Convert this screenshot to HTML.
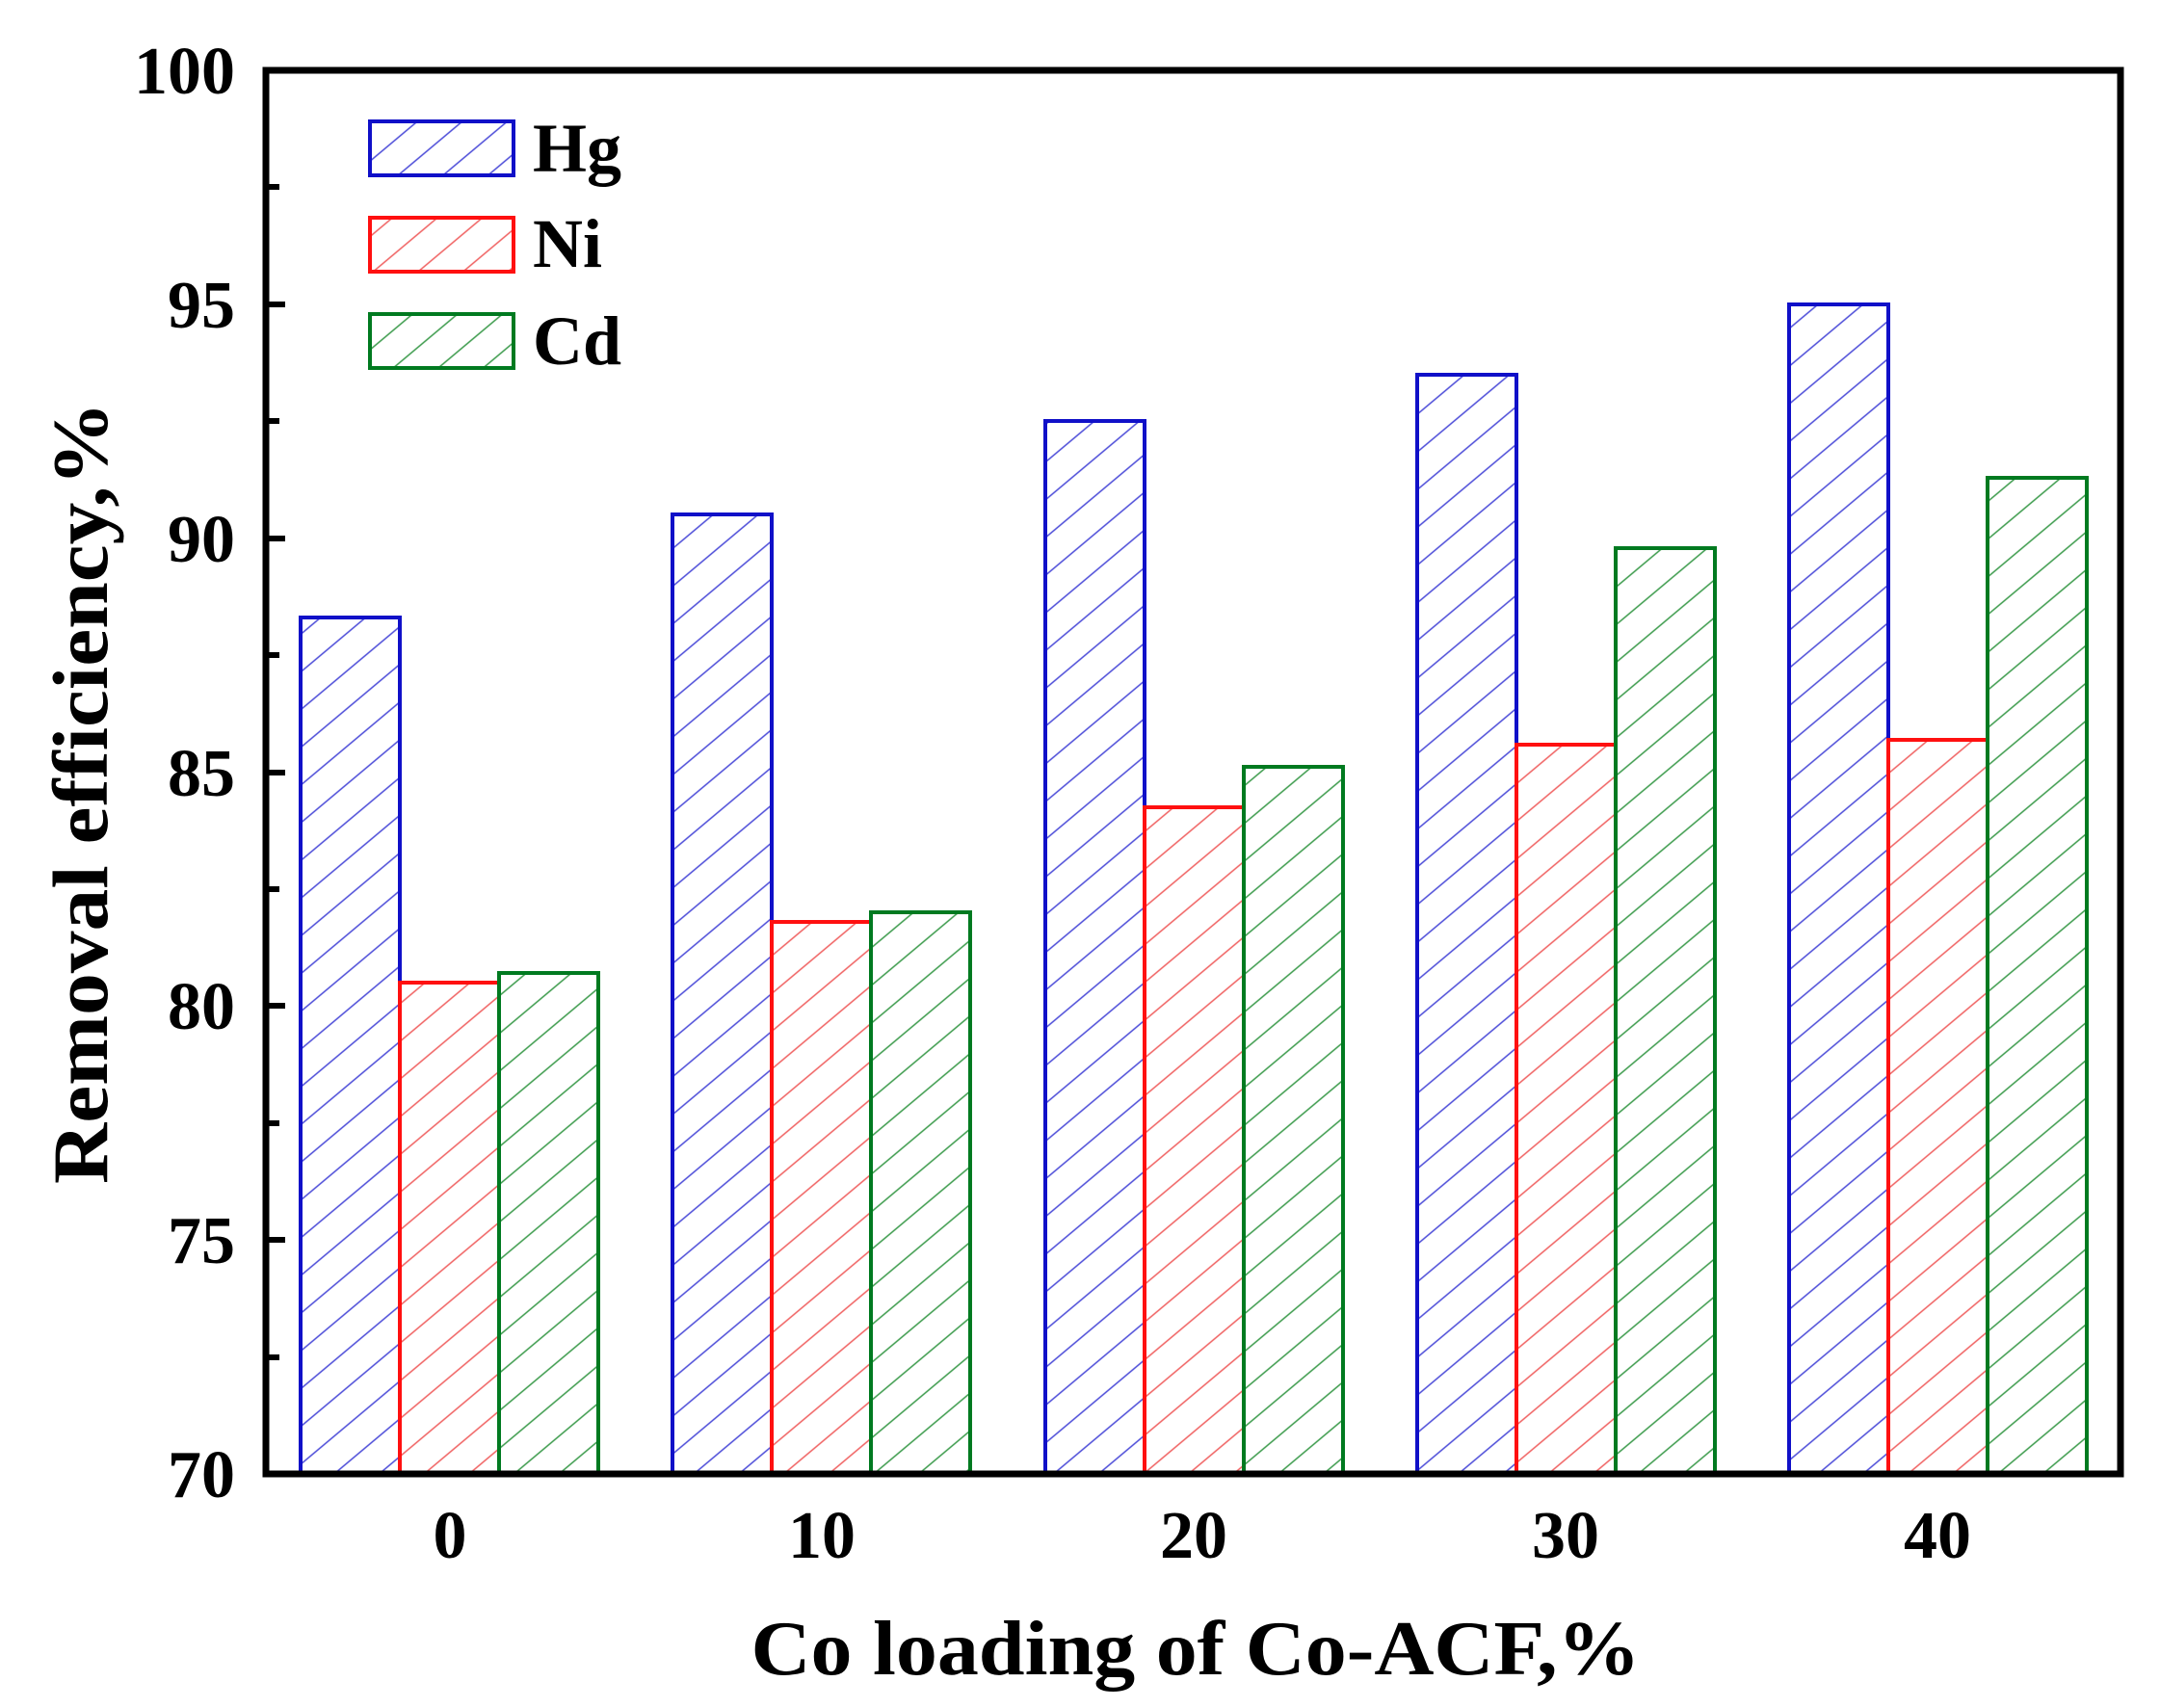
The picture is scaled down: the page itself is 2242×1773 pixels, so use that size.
<!DOCTYPE html>
<html><head><meta charset="utf-8"><style>
html,body{margin:0;padding:0;background:#fff;}
svg{display:block;}
text{font-family:"Liberation Serif",serif;font-weight:bold;fill:#000;}
</style></head><body>
<svg width="2242" height="1773" viewBox="0 0 2242 1773" xmlns="http://www.w3.org/2000/svg">
<defs>
<pattern id="hb" patternUnits="userSpaceOnUse" width="30" height="30" patternTransform="rotate(-40)"><line x1="0" y1="15" x2="30" y2="15" stroke="#4a4ad8" stroke-width="1.6"/></pattern>
<pattern id="hr" patternUnits="userSpaceOnUse" width="30" height="30" patternTransform="rotate(-40)"><line x1="0" y1="15" x2="30" y2="15" stroke="#f06060" stroke-width="1.6"/></pattern>
<pattern id="hg" patternUnits="userSpaceOnUse" width="30" height="30" patternTransform="rotate(-40)"><line x1="0" y1="15" x2="30" y2="15" stroke="#3a9a4a" stroke-width="1.6"/></pattern>
</defs>
<g id="bars" stroke-width="4">
<!-- y(v)=1530-(v-70)*48.57 -->
<rect x="312" y="641" width="103" height="889" fill="url(#hb)" stroke="#1010c8"/>
<rect x="415" y="1020" width="103" height="510" fill="url(#hr)" stroke="#ff1010"/>
<rect x="518" y="1010" width="103" height="520" fill="url(#hg)" stroke="#007a20"/>

<rect x="698" y="534" width="103" height="996" fill="url(#hb)" stroke="#1010c8"/>
<rect x="801" y="957" width="103" height="573" fill="url(#hr)" stroke="#ff1010"/>
<rect x="904" y="947" width="103" height="583" fill="url(#hg)" stroke="#007a20"/>

<rect x="1085" y="437" width="103" height="1093" fill="url(#hb)" stroke="#1010c8"/>
<rect x="1188" y="838" width="103" height="692" fill="url(#hr)" stroke="#ff1010"/>
<rect x="1291" y="796" width="103" height="734" fill="url(#hg)" stroke="#007a20"/>

<rect x="1471" y="389" width="103" height="1141" fill="url(#hb)" stroke="#1010c8"/>
<rect x="1574" y="773" width="103" height="757" fill="url(#hr)" stroke="#ff1010"/>
<rect x="1677" y="569" width="103" height="961" fill="url(#hg)" stroke="#007a20"/>

<rect x="1857" y="316" width="103" height="1214" fill="url(#hb)" stroke="#1010c8"/>
<rect x="1960" y="768" width="103" height="762" fill="url(#hr)" stroke="#ff1010"/>
<rect x="2063" y="496" width="103" height="1034" fill="url(#hg)" stroke="#007a20"/>
</g>
<!-- axes -->
<rect x="276" y="73" width="1925" height="1457" fill="none" stroke="#000" stroke-width="7"/>
<g stroke="#000" stroke-width="6">
<line x1="276" y1="316" x2="296" y2="316"/>
<line x1="276" y1="559" x2="296" y2="559"/>
<line x1="276" y1="802" x2="296" y2="802"/>
<line x1="276" y1="1044" x2="296" y2="1044"/>
<line x1="276" y1="1287" x2="296" y2="1287"/>
<line x1="276" y1="194" x2="290" y2="194"/>
<line x1="276" y1="437" x2="290" y2="437"/>
<line x1="276" y1="680" x2="290" y2="680"/>
<line x1="276" y1="923" x2="290" y2="923"/>
<line x1="276" y1="1166" x2="290" y2="1166"/>
<line x1="276" y1="1409" x2="290" y2="1409"/>
</g>
<g font-size="70" text-anchor="end">
<text x="244" y="97">100</text>
<text x="244" y="340">95</text>
<text x="244" y="583">90</text>
<text x="244" y="826">85</text>
<text x="244" y="1068">80</text>
<text x="244" y="1311">75</text>
<text x="244" y="1554">70</text>
</g>
<g font-size="70" text-anchor="middle">
<text x="467" y="1617">0</text>
<text x="853" y="1617">10</text>
<text x="1239" y="1617">20</text>
<text x="1625" y="1617">30</text>
<text x="2011" y="1617">40</text>
</g>
<text x="1241" y="1738" font-size="80" text-anchor="middle" textLength="923" lengthAdjust="spacingAndGlyphs">Co loading of Co-ACF,%</text>
<text transform="translate(111,823) rotate(-90)" font-size="82" text-anchor="middle" textLength="812" lengthAdjust="spacingAndGlyphs">Removal efficiency,%</text>
<!-- legend -->
<g stroke-width="4">
<rect x="384" y="126" width="149" height="56" fill="url(#hb)" stroke="#1010c8"/>
<rect x="384" y="226" width="149" height="56" fill="url(#hr)" stroke="#ff1010"/>
<rect x="384" y="326" width="149" height="56" fill="url(#hg)" stroke="#007a20"/>
</g>
<g font-size="72">
<text x="553" y="178">Hg</text>
<text x="553" y="277">Ni</text>
<text x="553" y="378">Cd</text>
</g>
</svg>
</body></html>
